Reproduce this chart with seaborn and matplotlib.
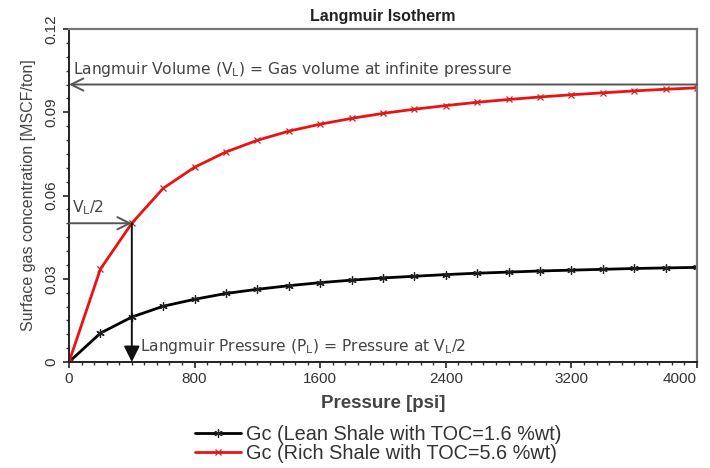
import matplotlib
matplotlib.use("Agg")
import matplotlib.pyplot as plt
from matplotlib.ticker import MultipleLocator
import numpy as np
import pandas as pd
import seaborn as sns

# Pressure steps [psi] and adsorbed gas readings [MSCF/ton]
pressure = [0, 200, 400, 600, 800, 1000, 1200, 1400, 1600, 1800, 2000,
            2200, 2400, 2600, 2800, 3000, 3200, 3400, 3600, 3800, 4000]
gc_lean = [0.0, 0.0104, 0.0162, 0.0201, 0.0226, 0.0247, 0.0262, 0.0275, 0.0286,
           0.0295, 0.0303, 0.0309, 0.0315, 0.0320, 0.0324, 0.0328, 0.0331,
           0.0334, 0.0337, 0.0339, 0.0341]
gc_rich = [0.0, 0.0335, 0.0500, 0.0626, 0.0702, 0.0757, 0.0799, 0.0832, 0.0857,
           0.0878, 0.0896, 0.0911, 0.0924, 0.0936, 0.0946, 0.0955, 0.0963,
           0.0970, 0.0977, 0.0983, 0.0988]
series_names = ["Gc (Lean Shale with TOC=1.6 %wt)", "Gc (Rich Shale with TOC=5.6 %wt)"]

langmuir_volume = 0.10
langmuir_pressure = 400

x_ticks = [0, 800, 1600, 2400, 3200, 4000]
y_ticks = [0, 0.03, 0.06, 0.09, 0.12]
y_tick_labels = ["0", "0.03", "0.06", "0.09", "0.12"]

df = pd.DataFrame({
    "Pressure": pressure * 2,
    "Gc": gc_lean + gc_rich,
    "Series": [series_names[0]] * len(pressure) + [series_names[1]] * len(pressure),
})

sns.set_style("ticks")
plt.rcParams["font.family"] = ["Liberation Sans", "DejaVu Sans"]
plt.rcParams["mathtext.default"] = "regular"

fig = plt.figure(figsize=(7.1, 4.68), dpi=100)
ax = fig.add_axes([0.0972, 0.2265, 0.8845, 0.7115])

sns.lineplot(data=df[df.Series == series_names[0]], x="Pressure", y="Gc",
             color="black", lw=2.0, marker=(6, 2, 0), markersize=6,
             markeredgewidth=0.9, markeredgecolor="#222222", ax=ax,
             label=series_names[0])
sns.lineplot(data=df[df.Series == series_names[1]], x="Pressure", y="Gc",
             color="#ee1111", lw=2.0, marker="x", markersize=5,
             markeredgewidth=0.9, markeredgecolor="#cc2222", ax=ax,
             label=series_names[1])

ax.set_xlim(0, 4000)
ax.set_ylim(0, 0.12)
ax.set_xticks(x_ticks)
ax.set_yticks(y_ticks)
ax.set_yticklabels(y_tick_labels, rotation=90, va="center")
ax.xaxis.set_minor_locator(MultipleLocator(80))
ax.yaxis.set_minor_locator(MultipleLocator(0.005))
ax.tick_params(axis="both", which="major", length=4, width=1.2, color="#222222",
               labelsize=11, labelcolor="#333333")
ax.tick_params(axis="both", which="minor", length=2, width=1.0, color="#333333")
ax.tick_params(axis="y", pad=4)
# keep the last pressure label inside the canvas
ax.get_xticklabels()[-1].set_horizontalalignment("right")
ax.get_xticklabels()[-1].set_x(4000)

for side in ["top", "right"]:
    ax.spines[side].set_color("#777777")
    ax.spines[side].set_linewidth(1.6)
for side in ["left", "bottom"]:
    ax.spines[side].set_color("#222222")
    ax.spines[side].set_linewidth(1.4)

ax.set_title("Langmuir Isotherm", fontsize=11.5, fontweight="bold",
             color="#222222", pad=6)
ax.set_xlabel("Pressure [psi]", fontsize=13.5, fontweight="bold", color="#444444")
ax.xaxis.set_label_coords(0.5, -0.1)
ax.set_ylabel("Surface gas concentration [MSCF/ton]", fontsize=11.5,
              color="#444444", labelpad=6)

# Langmuir volume marker line
ax.annotate("", xy=(0, langmuir_volume), xytext=(4000, langmuir_volume),
            arrowprops=dict(arrowstyle="->", color="#555555", lw=1.4,
                            mutation_scale=22, shrinkA=0, shrinkB=0))
ax.text(25, 0.1053, "Langmuir Volume (V$_L$) = Gas volume at infinite pressure",
        fontsize=11.2, color="#444444", va="center", ha="left",
        family="DejaVu Sans")

# Half-volume marker and Langmuir pressure drop line
ax.annotate("", xy=(langmuir_pressure, langmuir_volume / 2),
            xytext=(0, langmuir_volume / 2),
            arrowprops=dict(arrowstyle="->", color="#555555", lw=1.4,
                            mutation_scale=22, shrinkA=0, shrinkB=0))
ax.text(20, 0.0556, "V$_L$/2", fontsize=11.2, color="#444444", va="center",
        ha="left", family="DejaVu Sans")
ax.annotate("", xy=(langmuir_pressure, 0.0), xytext=(langmuir_pressure, langmuir_volume / 2),
            arrowprops=dict(arrowstyle="-|>", color="#111111", lw=1.4,
                            mutation_scale=24, shrinkA=0, shrinkB=0))
ax.text(452, 0.0057, "Langmuir Pressure (P$_L$) = Pressure at V$_L$/2",
        fontsize=11.2, color="#444444", va="center", ha="left",
        family="DejaVu Sans")

handles, labels = ax.get_legend_handles_labels()
ax.get_legend().remove()
fig.legend(handles, labels, loc="upper center", bbox_to_anchor=(0.533, 0.118),
           frameon=False, fontsize=14.3, labelspacing=0.0, handlelength=2.3,
           handletextpad=0.25, borderpad=0.1, labelcolor="#333333")

fig.savefig("out.png", dpi=100)
